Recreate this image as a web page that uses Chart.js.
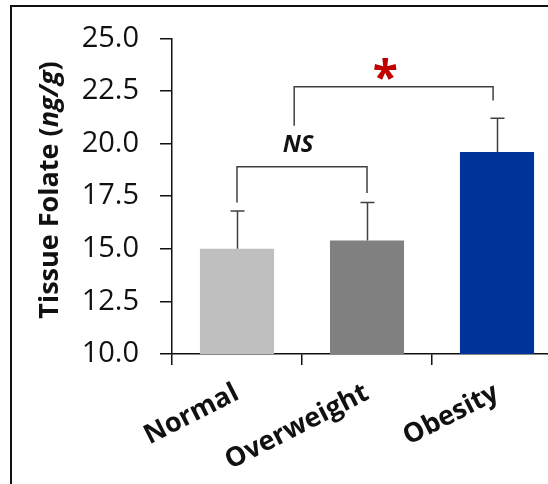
<!DOCTYPE html>
<html><head><meta charset="utf-8">
<script src="https://cdn.jsdelivr.net/npm/chart.js@4/dist/chart.umd.min.js"></script>
<style>
html,body{margin:0;padding:0;background:#fff;overflow:hidden;width:548px;height:484px}
#frame{position:absolute;left:10px;top:5px;width:600px;height:600px;border-left:2px solid #111;border-top:2px solid #111}
#wrap{position:absolute;left:0;top:0;width:600px;height:484px}
</style></head><body>
<div id="frame"></div>
<div id="wrap"><canvas id="c" width="600" height="484" style="width:600px;height:484px"></canvas></div>
<script>
// ---- data ----
const categories = ['Normal', 'Overweight', 'Obesity'];
const means = [15.0, 15.4, 19.6];
const errUpper = [1.8, 1.8, 1.6];
const barColors = ['#bfbfbf', '#808080', '#003399'];
const yMin = 10, yMax = 25, yStep = 2.5;
const yTitleMain = 'Tissue Folate (';
const yTitleUnit = 'ng/g';
const yTitleEnd = ')';
// significance brackets (x in category index units, y in data units)
const bracketFrom = [0, 0.44];
const bracketTo = [1, 1.97];
const bracketTop = [18.9, 22.7];
const bracketLeftEnd = [17.2, 20.85];
const bracketRightEnd = [17.65, 22.05];
const sigLabels = ['NS', '*'];
const sigX = [0.47, 1.14];
const sigY = [19.93, 23.4];

const FONT = '"Open Sans", "DejaVu Sans", sans-serif';

const annot = {
  id: 'annot',
  afterDatasetsDraw(chart) {
    const { ctx, scales: { x, y } } = chart;
    ctx.save();
    ctx.strokeStyle = '#404040';
    ctx.lineWidth = 1.5;
    means.forEach((m, i) => {
      const px = Math.round(x.getPixelForValue(i)) + 0.5;
      const y0 = y.getPixelForValue(m);
      const y1 = y.getPixelForValue(m + errUpper[i]);
      ctx.beginPath();
      ctx.moveTo(px, y0); ctx.lineTo(px, y1);
      ctx.moveTo(px - 7, y1); ctx.lineTo(px + 7, y1);
      ctx.stroke();
    });
    bracketFrom.forEach((f, i) => {
      const x0 = x.getPixelForValue(f), x1 = x.getPixelForValue(bracketTo[i]);
      const yt = y.getPixelForValue(bracketTop[i]);
      ctx.beginPath();
      ctx.moveTo(x0, y.getPixelForValue(bracketLeftEnd[i]));
      ctx.lineTo(x0, yt); ctx.lineTo(x1, yt);
      ctx.lineTo(x1, y.getPixelForValue(bracketRightEnd[i]));
      ctx.stroke();
    });
    ctx.textAlign = 'center';
    ctx.textBaseline = 'middle';
    ctx.fillStyle = '#111';
    ctx.font = 'italic bold 24px ' + FONT;
    ctx.fillText(sigLabels[0], x.getPixelForValue(sigX[0]), y.getPixelForValue(sigY[0]));
    ctx.fillStyle = '#c00000';
    ctx.font = 'bold 46px ' + FONT;
    ctx.fillText(sigLabels[1], x.getPixelForValue(sigX[1]), y.getPixelForValue(sigY[1]) + 9);
    ctx.restore();
  },
  afterDraw(chart) {
    const { ctx } = chart;
    ctx.save();
    const fN = 'bold 27px ' + FONT, fI = 'italic bold 27px ' + FONT;
    ctx.font = fN; const w1 = ctx.measureText(yTitleMain).width, w3 = ctx.measureText(yTitleEnd).width;
    ctx.font = fI; const w2 = ctx.measureText(yTitleUnit).width;
    const total = w1 + w2 + w3;
    const cy = 190, cx = 50;
    ctx.translate(cx, cy);
    ctx.rotate(-Math.PI / 2);
    ctx.textBaseline = 'middle';
    ctx.textAlign = 'left';
    ctx.fillStyle = '#111';
    let sx = -total / 2;
    ctx.font = fN; ctx.fillText(yTitleMain, sx, 0); sx += w1;
    ctx.font = fI; ctx.fillText(yTitleUnit, sx, 0); sx += w2;
    ctx.font = fN; ctx.fillText(yTitleEnd, sx, 0);
    ctx.restore();
  }
};

new Chart(document.getElementById('c'), {
  type: 'bar',
  data: {
    labels: categories,
    datasets: [{ data: means, backgroundColor: barColors, borderWidth: 0,
      barPercentage: 0.57, categoryPercentage: 1.0 }]
  },
  options: {
    responsive: false,
    animation: false,
    layout: { padding: { top: 36, right: 38, left: 0, bottom: 0 } },
    plugins: { legend: { display: false }, tooltip: { enabled: false } },
    scales: {
      x: {
        afterFit(s) { s.height = 130; },
        border: { display: true, color: '#111', width: 1.5 },
        grid: { offset: true, drawOnChartArea: false, drawTicks: true, tickLength: 11, color: '#111', lineWidth: 1.5 },
        ticks: { maxRotation: 27, minRotation: 27, padding: 12, color: '#111',
          font: { family: FONT, size: 27, weight: 'bold' } }
      },
      y: {
        min: yMin, max: yMax,
        afterFit(s) { s.width = 172; },
        border: { display: true, color: '#111', width: 1.5 },
        grid: { drawOnChartArea: false, drawTicks: true, tickLength: 12, color: '#111', lineWidth: 1.5 },
        ticks: { stepSize: yStep, padding: 21, color: '#111',
          font: { family: FONT, size: 29 },
          callback: v => Number(v).toFixed(1) }
      }
    }
  },
  plugins: [annot]
});
</script>
</body></html>
